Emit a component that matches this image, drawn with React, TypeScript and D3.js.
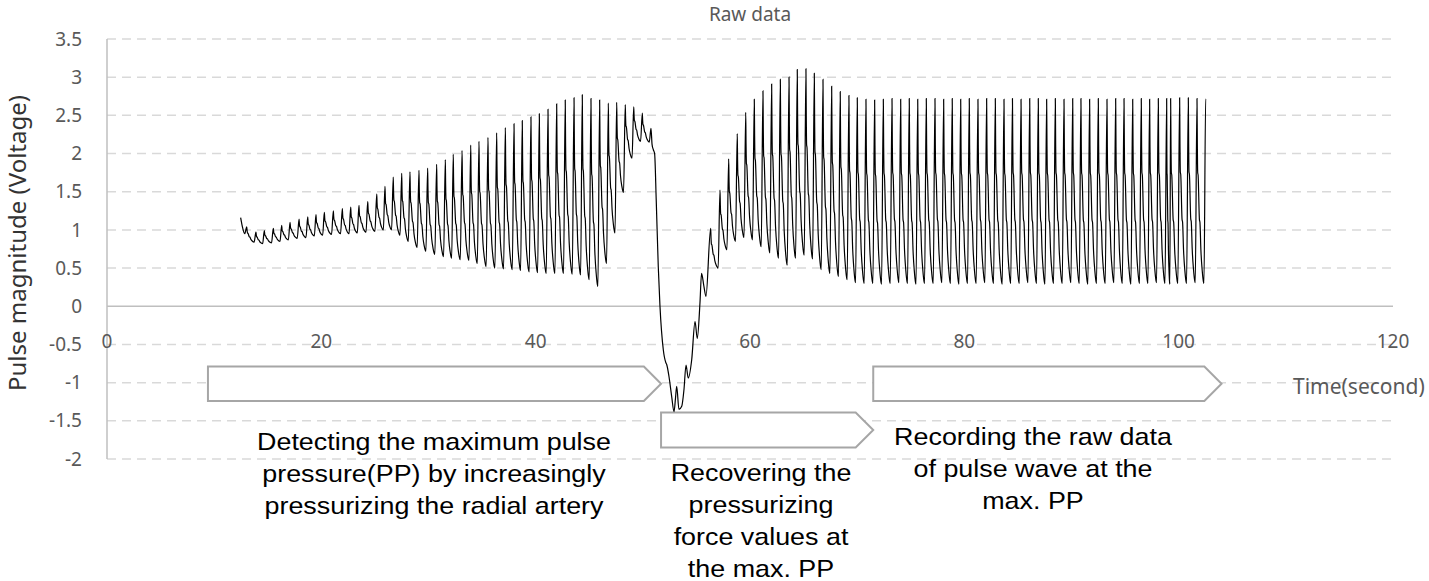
import React from "react";
import * as d3 from "d3";

// ---- data ----
const xTicks = [0, 20, 40, 60, 80, 100, 120];
const yTicks = [-2, -1.5, -1, -0.5, 0, 0.5, 1, 1.5, 2, 2.5, 3, 3.5];

// start of the recording before the first full beat
const leadIn: [number, number][] = [
  [12.47, 1.16],
  [12.62, 1.05],
  [12.85, 0.95],
];

// phase 1: increasing pressure (peak time, peak value, trough after the beat)
const phase1Times = [
  13.04, 13.9, 14.68, 15.52, 16.3, 17.08, 17.92, 18.73, 19.5, 20.28, 21.12, 21.96,
  22.74, 23.51, 24.33, 25.17, 25.94, 26.71, 27.5, 28.27, 29.11, 29.92, 30.76, 31.57,
  32.31, 33.13, 33.94, 34.71, 35.55, 36.36, 37.17, 37.98, 38.75, 39.56, 40.34, 41.15,
  41.96, 42.76, 43.58, 44.35, 45.16, 45.97, 46.78, 47.56, 48.36, 49.15, 49.95, 50.76,
];
const phase1Peaks = [
  1.04, 0.97, 0.99, 1.02, 1.06, 1.1, 1.14, 1.17, 1.2, 1.23, 1.25, 1.28,
  1.3, 1.32, 1.37, 1.47, 1.57, 1.69, 1.74, 1.76, 1.78, 1.81, 1.86, 1.92,
  1.99, 2.04, 2.11, 2.16, 2.21, 2.27, 2.34, 2.39, 2.43, 2.48, 2.52, 2.58,
  2.65, 2.7, 2.73, 2.77, 2.72, 2.7, 2.66, 2.67, 2.64, 2.61, 2.53, 2.33,
];
const phase1Troughs = [
  0.84, 0.82, 0.83, 0.85, 0.87, 0.89, 0.9, 0.92, 0.93, 0.94, 0.95, 0.95,
  0.96, 0.97, 0.98, 1.0, 1.0, 0.93, 0.85, 0.77, 0.72, 0.68, 0.65, 0.63,
  0.61, 0.6, 0.56, 0.52, 0.5, 0.49, 0.48, 0.47, 0.45, 0.44, 0.43, 0.43,
  0.43, 0.42, 0.41, 0.35, 0.26, 0.56, 0.96, 1.49, 1.94, 2.16, 2.15,
];

// phase 2: pressure released, signal dips below zero and recovers
const dipTrace: [number, number][] = [
  [50.86, 2.12], [50.98, 2.05], [51.1, 2.0], [51.25, 1.39], [51.44, 0.52],
  [51.6, 0.0], [51.91, -0.57], [52.15, -0.74], [52.22, -0.76], [52.44, -0.92],
  [52.69, -1.18], [52.91, -1.38], [53.05, -1.2], [53.16, -1.05], [53.37, -1.35],
  [53.63, -1.31], [53.84, -1.09], [54.03, -0.77], [54.24, -0.94], [54.56, -0.7],
  [54.87, -0.2], [55.08, -0.42], [55.33, 0.04], [55.48, 0.43], [55.7, 0.26],
  [55.89, 0.13],
];

// phase 3: recording at the max. PP
const phase3Times = [
  56.33, 57.2, 58.01, 58.81, 59.6, 60.4, 61.21, 62.02, 62.83, 63.64, 64.41, 65.22,
  66.0, 66.81, 67.62, 68.42, 69.23, 70.01, 70.82, 71.63, 72.44, 73.25, 74.06, 74.86,
  75.65, 76.45, 77.26, 78.07, 78.87, 79.66, 80.46, 81.27, 82.08, 82.89, 83.7, 84.49,
  85.29, 86.1, 86.9, 87.68, 88.49, 89.3, 90.11, 90.88, 91.69, 92.5, 93.31, 94.12,
  94.9, 95.71, 96.51, 97.29, 98.1, 98.88, 99.25, 100.09, 100.9, 101.71, 102.52, 103.39,
];
const phase3Peaks = [
  1.02, 1.52, 1.93, 2.26, 2.54, 2.71, 2.82, 2.91, 2.97, 3.0, 3.1, 3.11,
  3.05, 2.97, 2.88, 2.81, 2.76, 2.73, 2.71, 2.7, 2.71, 2.72, 2.71, 2.72,
  2.71, 2.72, 2.72, 2.71, 2.72, 2.71, 2.72, 2.71, 2.72, 2.72, 2.71, 2.72,
  2.71, 2.72, 2.72, 2.71, 2.72, 2.71, 2.72, 2.72, 2.71, 2.72, 2.71, 2.72,
  2.72, 2.71, 2.72, 2.71, 2.72, 2.72, 2.72, 2.73, 2.73, 2.72, 2.72,
];
const phase3Troughs = [
  0.5, 0.74, 0.85, 0.9, 0.87, 0.78, 0.7, 0.63, 0.54, 0.63, 0.67, 0.62,
  0.48, 0.43, 0.39, 0.35, 0.31, 0.3, 0.3, 0.29, 0.3, 0.31, 0.3, 0.29,
  0.3, 0.3, 0.31, 0.3, 0.29, 0.3, 0.3, 0.31, 0.3, 0.29, 0.3, 0.3,
  0.31, 0.3, 0.29, 0.3, 0.3, 0.31, 0.3, 0.29, 0.3, 0.3, 0.31, 0.3,
  0.29, 0.3, 0.3, 0.31, 0.3, 0.29, 0.3, 0.3, 0.31, 0.3,
];
// recording stops on the falling edge of the last beat
const tail: [number, number][] = [[103.47, 1.72]];

// shape of one beat after its peak: [fraction of beat interval, fraction of peak-trough height]
const beatShape: [number, number][] = [
  [0.04, 0.75], [0.08, 0.6], [0.13, 0.585], [0.28, 0.345], [0.34, 0.33],
  [0.45, 0.18], [0.6, 0.07], [0.74, 0.01], [0.8, 0],
];

// annotation arrows: [start s, end s, top V, bottom V]
const phaseArrows: [number, number, number, number][] = [
  [9.42, 51.7, -0.79, -1.24],
  [51.7, 71.5, -1.39, -1.85],
  [71.5, 104.0, -0.79, -1.24],
];
const phaseLabels = [
  { x: 434, y: 450, lines: ["Detecting the maximum pulse", "pressure(PP) by increasingly", "pressurizing the radial artery"] },
  { x: 761, y: 481, lines: ["Recovering the", "pressurizing", "force values at", "the max. PP"] },
  { x: 1033, y: 445, lines: ["Recording the raw data", "of pulse wave at the", "max. PP"] },
];

function buildTrace() {
  const pts: [number, number][] = [...leadIn];
  const addBeats = (times: number[], peaks: number[], troughs: number[]) => {
    times.forEach((t, i) => {
      pts.push([t, peaks[i]]);
      if (i < troughs.length) {
        const dt = times[i + 1] - t;
        const hi = peaks[i];
        const lo = troughs[i];
        beatShape.forEach(([u, f]) => pts.push([t + u * dt, lo + f * (hi - lo)]));
      }
    });
  };
  addBeats(phase1Times, phase1Peaks, phase1Troughs);
  pts.push(...dipTrace);
  addBeats(phase3Times, phase3Peaks, phase3Troughs);
  pts.push(...tail);
  return pts;
}

const App = () => {
  const width = 1429;
  const height = 581;

  const xScale = d3.scaleLinear().domain([0, 120]).range([107, 1393]);
  const yScale = d3.scaleLinear().domain([-2, 3.5]).range([459, 39]);

  const trace = buildTrace();
  const line = d3
    .line<[number, number]>()
    .x((d) => xScale(d[0]))
    .y((d) => yScale(d[1]))
    .curve(d3.curveMonotoneX);

  const tickFont = "'Noto Sans', 'Open Sans', sans-serif";
  const noteFont = "'Liberation Sans', Arial, sans-serif";

  return (
    <svg
      width={width}
      height={height}
      style={{ position: "absolute", left: 0, top: 0, background: "#fff" }}
    >
      {/* grid lines */}
      {yTicks
        .filter((v) => v !== 0)
        .map((v) => (
          <line
            key={v}
            x1={xScale(0)}
            x2={xScale(120)}
            y1={yScale(v)}
            y2={yScale(v)}
            stroke="#d9d9d9"
            strokeWidth={1.5}
            strokeDasharray="9 6"
          />
        ))}

      {/* axes */}
      <line x1={xScale(0)} x2={xScale(0)} y1={yScale(3.5)} y2={yScale(-2)} stroke="#bfbfbf" strokeWidth={1.5} />
      <line x1={xScale(0)} x2={xScale(120)} y1={yScale(0)} y2={yScale(0)} stroke="#bfbfbf" strokeWidth={1.5} />

      {/* tick labels */}
      {yTicks.map((v) => (
        <text
          key={v}
          x={82}
          y={yScale(v)}
          dy="0.35em"
          textAnchor="end"
          fontFamily={tickFont}
          fontSize={19}
          fill="#595959"
        >
          {String(v)}
        </text>
      ))}
      {xTicks.map((v) => (
        <text
          key={v}
          x={xScale(v)}
          y={348}
          textAnchor="middle"
          fontFamily={tickFont}
          fontSize={19}
          fill="#595959"
        >
          {v}
        </text>
      ))}

      {/* titles */}
      <text x={750} y={21} textAnchor="middle" fontFamily={tickFont} fontSize={19} fill="#595959">
        Raw data
      </text>
      <text
        transform="translate(26, 243) rotate(-90)"
        textAnchor="middle"
        fontFamily={tickFont}
        fontSize={24}
        fill="#333"
      >
        Pulse magnitude (Voltage)
      </text>
      <text x={1293} y={394} fontFamily={tickFont} fontSize={21} fill="#595959">
        Time(second)
      </text>

      {/* phase arrows */}
      {phaseArrows.map(([s, e, top, bottom], i) => {
        const x0 = xScale(s);
        const x1 = xScale(e);
        const y0 = yScale(top);
        const y1 = yScale(bottom);
        const half = (y1 - y0) / 2;
        const pts = [
          [x0, y0],
          [x1 - half, y0],
          [x1, y0 + half],
          [x1 - half, y1],
          [x0, y1],
        ];
        return (
          <polygon
            key={i}
            points={pts.map((p) => p.join(",")).join(" ")}
            fill="#fff"
            stroke="#a6a6a6"
            strokeWidth={2}
          />
        );
      })}

      {/* waveform */}
      <path d={line(trace) ?? ""} fill="none" stroke="#000" strokeWidth={1.2} />

      {/* phase descriptions */}
      {phaseLabels.map((lab, i) => (
        <g key={i} transform={`translate(${lab.x}, ${lab.y}) scale(1.12, 1)`}>
          {lab.lines.map((ln, j) => (
            <text
              key={j}
              x={0}
              y={j * 32}
              textAnchor="middle"
              fontFamily={noteFont}
              fontSize={24}
              fill="#000"
            >
              {ln}
            </text>
          ))}
        </g>
      ))}
    </svg>
  );
};

export default App;
